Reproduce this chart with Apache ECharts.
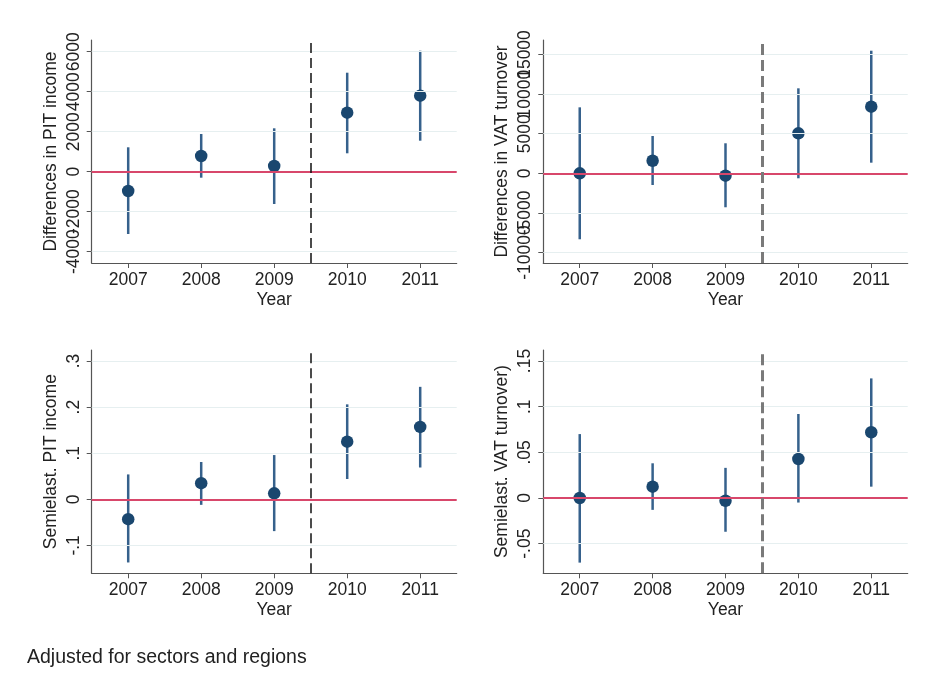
<!DOCTYPE html>
<html><head><meta charset="utf-8">
<script src="https://cdn.jsdelivr.net/npm/echarts@6/dist/echarts.min.js"></script>
<style>html,body{margin:0;padding:0;background:#fff}#c{width:926px;height:681px}</style>
</head><body><div id="c"></div>
<script>
// ---- data ----
const years = [2007, 2008, 2009, 2010, 2011];
const xTickLabels = ['2007', '2008', '2009', '2010', '2011'];
const reformLineX = 2009.5;

const pitDiffEst = [-965, 785, 285, 2950, 3800];
const pitDiffLo  = [-3115, -300, -1615, 920, 1550];
const pitDiffHi  = [1220, 1885, 2170, 4950, 6050];

const vatDiffEst = [0, 1590, -300, 5050, 8410];
const vatDiffLo  = [-8330, -1480, -4290, -630, 1340];
const vatDiffHi  = [8330, 4710, 3790, 10730, 15480];

const pitSemiEst = [-0.043, 0.035, 0.013, 0.125, 0.157];
const pitSemiLo  = [-0.137, -0.012, -0.069, 0.044, 0.069];
const pitSemiHi  = [0.054, 0.081, 0.096, 0.206, 0.244];

const vatSemiEst = [0.000, 0.0124, -0.003, 0.0427, 0.072];
const vatSemiLo  = [-0.0708, -0.013, -0.037, -0.005, 0.0124];
const vatSemiHi  = [0.070, 0.038, 0.033, 0.092, 0.131];

const pitDiffTicks = [-4000, -2000, 0, 2000, 4000, 6000];
const pitDiffTickLabels = ['-4000', '-2000', '0', '2000', '4000', '6000'];
const vatDiffTicks = [-10000, -5000, 0, 5000, 10000, 15000];
const vatDiffTickLabels = ['-10000', '-5000', '0', '5000', '10000', '15000'];
const pitSemiTicks = [-0.1, 0, 0.1, 0.2, 0.3];
const pitSemiTickLabels = ['-.1', '0', '.1', '.2', '.3'];
const vatSemiTicks = [-0.05, 0, 0.05, 0.1, 0.15];
const vatSemiTickLabels = ['-.05', '0', '.05', '.1', '.15'];

const titles = ['Differences in PIT income', 'Differences in VAT turnover',
                'Semielast. PIT income', 'Semielast. VAT turnover)'];
const xTitle = 'Year';
const noteText = 'Adjusted for sectors and regions';

// ---- layout / style ----
const panels = [
  {est: pitDiffEst, lo: pitDiffLo, hi: pitDiffHi, ticks: pitDiffTicks, labels: pitDiffTickLabels,
   min: -4565, max: 6585, grid: {left: 91.7, top: 40, width: 365, height: 223}, dash: 'black'},
  {est: vatDiffEst, lo: vatDiffLo, hi: vatDiffHi, ticks: vatDiffTicks, labels: vatDiffTickLabels,
   min: -11326, max: 16831, grid: {left: 543.3, top: 40, width: 364.4, height: 223}, dash: 'gray'},
  {est: pitSemiEst, lo: pitSemiLo, hi: pitSemiHi, ticks: pitSemiTicks, labels: pitSemiTickLabels,
   min: -0.1605, max: 0.3239, grid: {left: 91.7, top: 350, width: 365, height: 223.3}, dash: 'black'},
  {est: vatSemiEst, lo: vatSemiLo, hi: vatSemiHi, ticks: vatSemiTicks, labels: vatSemiTickLabels,
   min: -0.0825, max: 0.1621, grid: {left: 543.3, top: 350, width: 364.4, height: 223.3}, dash: 'gray'}
];

const FONT = '"Liberation Sans", Arial, Helvetica, sans-serif';
const FS = 17.5;
const TXT = '#222';
const AXIS = '#555';
const NAVY = '#1a476f';
const SPIKE = '#36618c';
const RED = '#d8476b';
const GRIDC = '#e6eff0';

function labelFor(ticks, labels) {
  return v => {
    for (let i = 0; i < ticks.length; i++) if (Math.abs(ticks[i] - v) < 1e-9 * Math.max(1, Math.abs(v)) + 1e-9) return labels[i];
    return '';
  };
}

const grid = [], xAxis = [], yAxis = [], series = [];
panels.forEach((p, i) => {
  grid.push(Object.assign({containLabel: false}, p.grid));
  xAxis.push({
    type: 'value', gridIndex: i, min: 2006.5, max: 2011.5,
    name: xTitle, nameLocation: 'middle', nameGap: 28, nameMoveOverlap: false,
    nameTextStyle: {fontFamily: FONT, fontSize: FS, color: TXT},
    axisLine: {show: true, onZero: false, lineStyle: {color: AXIS, width: 1.2}},
    axisTick: {show: true, length: 5, customValues: years, lineStyle: {color: AXIS}},
    axisLabel: {customValues: years, margin: 8, fontFamily: FONT, fontSize: FS, color: TXT,
                hideOverlap: false, showMinLabel: true, showMaxLabel: true,
                formatter: labelFor(years, xTickLabels)},
    splitLine: {show: false}
  });
  const evenTicks = p.ticks.filter((t, k) => k % 2 === 0);
  const oddTicks = p.ticks.filter((t, k) => k % 2 === 1);
  // primary y axis: line, all ticks, even-index labels
  yAxis.push({
    type: 'value', gridIndex: i, position: 'left', offset: 0, min: p.min, max: p.max,
    name: titles[i], nameLocation: 'middle', nameGap: 32, nameRotate: 90, nameMoveOverlap: false,
    nameTextStyle: {fontFamily: FONT, fontSize: FS, color: TXT},
    axisLine: {show: true, onZero: false, lineStyle: {color: AXIS, width: 1.2}},
    axisTick: {show: true, length: 5, customValues: p.ticks, lineStyle: {color: AXIS}},
    axisLabel: {customValues: evenTicks, rotate: 90, margin: 9, fontFamily: FONT, fontSize: FS, color: TXT,
                hideOverlap: false, showMinLabel: true, showMaxLabel: true,
                formatter: labelFor(p.ticks, p.labels)},
    splitLine: {show: false}
  });
  // companion y axis (same scale/position): odd-index labels only
  yAxis.push({
    type: 'value', gridIndex: i, position: 'left', offset: 0, min: p.min, max: p.max,
    axisLine: {show: false, onZero: false},
    axisTick: {show: false},
    axisLabel: {customValues: oddTicks, rotate: 90, margin: 9, fontFamily: FONT, fontSize: FS, color: TXT,
                hideOverlap: false, showMinLabel: true, showMaxLabel: true,
                formatter: labelFor(p.ticks, p.labels)},
    splitLine: {show: false}
  });
  const yi = 2 * i;
  // gridlines
  series.push({
    type: 'line', xAxisIndex: i, yAxisIndex: yi, data: [], z: 1, silent: true,
    markLine: {silent: true, symbol: ['none', 'none'], label: {show: false}, animation: false,
      lineStyle: {color: GRIDC, width: 1.2, type: 'solid'},
      data: p.ticks.map(t => ({yAxis: t}))}
  });
  // zero line and reform line
  series.push({
    type: 'line', xAxisIndex: i, yAxisIndex: yi, data: [], z: 2, silent: true,
    markLine: {silent: true, symbol: ['none', 'none'], label: {show: false}, animation: false,
      data: [
        {yAxis: 0, lineStyle: {color: RED, width: 2, type: 'solid'}},
        {xAxis: reformLineX, lineStyle: p.dash === 'black'
          ? {color: '#111', width: 1.5, type: [10, 5]}
          : {color: '#7a7a7a', width: 3, type: [11, 5]}}
      ]}
  });
  // CI spikes
  series.push({
    type: 'custom', xAxisIndex: i, yAxisIndex: yi, z: 3, silent: true,
    data: years.map((y, k) => [y, p.lo[k], p.hi[k]]),
    encode: {x: 0, y: [1, 2]},
    renderItem: (params, api) => {
      const a = api.coord([api.value(0), api.value(1)]);
      const b = api.coord([api.value(0), api.value(2)]);
      return {type: 'line', shape: {x1: a[0], y1: a[1], x2: b[0], y2: b[1]},
              style: {stroke: SPIKE, lineWidth: 2.5}};
    }
  });
  // point estimates
  series.push({
    type: 'scatter', xAxisIndex: i, yAxisIndex: yi, z: 4, silent: true,
    symbol: 'circle', symbolSize: 12.5,
    itemStyle: {color: NAVY, opacity: 1},
    data: years.map((y, k) => [y, p.est[k]])
  });
});

const chart = echarts.init(document.getElementById('c'), null, {renderer: 'canvas'});
chart.setOption({
  animation: false,
  backgroundColor: '#fff',
  grid, xAxis, yAxis, series,
  graphic: [{type: 'text', left: 27, top: 648,
    style: {text: noteText, font: '19.5px ' + FONT, fill: TXT}}]
});
</script></body></html>
